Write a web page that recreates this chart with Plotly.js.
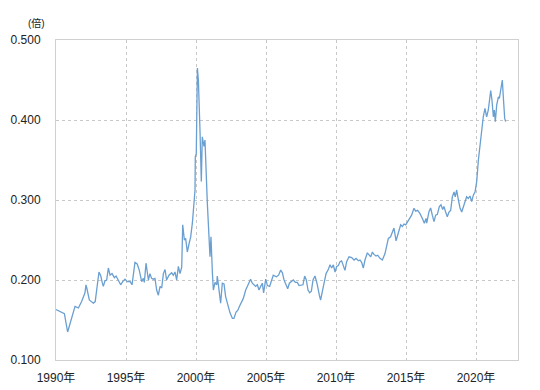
<!DOCTYPE html>
<html>
<head>
<meta charset="utf-8">
<script src="https://cdn.plot.ly/plotly-3.0.1.min.js"></script>
<style>html,body{margin:0;padding:0;background:#fff;}#chart{width:540px;height:390px;}</style>
</head>
<body>
<div id="chart"></div>
<script>
// Decimal year positions of the readings
const years = [
1990.0,1990.4,1990.6,1990.83,1991.12,1991.36,1991.6,1991.83,1992.07,1992.14,1992.2,1992.38,1992.67,1992.8,
1993.07,1993.2,1993.3,1993.38,1993.5,1993.62,1993.74,1993.86,1994.0,1994.17,1994.29,1994.45,1994.62,1994.76,1994.93,
1995.1,1995.3,1995.43,1995.64,1995.8,1995.95,1996.12,1996.24,1996.31,1996.43,1996.6,1996.71,1996.83,1996.95,
1997.07,1997.19,1997.31,1997.43,1997.55,1997.67,1997.79,1997.9,1998.07,1998.26,1998.38,1998.5,1998.62,1998.74,1998.86,1998.98,
1999.05,1999.17,1999.26,1999.38,1999.5,1999.62,1999.74,1999.86,1999.93,1999.95,2000.02,2000.1,2000.17,2000.29,2000.38,2000.45,2000.57,2000.64,2000.76,
2000.81,2001.0,2001.07,2001.17,2001.24,2001.36,2001.48,2001.52,2001.64,2001.76,2001.88,2002.0,2002.12,2002.24,2002.43,2002.6,2002.71,2002.86,2002.98,
2003.1,2003.21,2003.38,2003.55,2003.67,2003.79,2003.9,2004.02,2004.14,2004.26,2004.38,2004.5,2004.62,2004.74,2004.83,2004.98,
2005.1,2005.26,2005.52,2005.74,2005.9,2006.05,2006.17,2006.29,2006.43,2006.55,2006.67,2006.83,2006.95,
2007.1,2007.24,2007.36,2007.52,2007.64,2007.76,2007.88,2008.0,2008.12,2008.24,2008.36,2008.5,2008.64,2008.81,2008.9,
2009.1,2009.29,2009.45,2009.57,2009.69,2009.81,2009.93,2010.05,2010.17,2010.29,2010.4,2010.52,2010.64,2010.76,2010.93,
2011.12,2011.29,2011.43,2011.6,2011.71,2011.83,2011.95,2012.07,2012.24,2012.36,2012.48,2012.6,2012.71,2012.86,2012.98,
2013.14,2013.31,2013.5,2013.74,2013.9,2014.05,2014.14,2014.29,2014.45,2014.62,2014.74,2014.86,2014.98,
2015.1,2015.24,2015.4,2015.57,2015.69,2015.83,2016.0,2016.17,2016.31,2016.43,2016.48,2016.64,2016.76,2016.88,
2017.0,2017.12,2017.24,2017.38,2017.5,2017.62,2017.71,2017.83,2017.95,2018.07,2018.19,2018.31,2018.43,2018.52,2018.62,2018.74,2018.86,2018.98,
2019.1,2019.21,2019.33,2019.45,2019.57,2019.69,2019.81,2019.93,2020.05,2020.17,2020.33,2020.52,2020.64,2020.76,2020.88,
2021.05,2021.14,2021.24,2021.31,2021.38,2021.48,2021.6,2021.67,2021.76,2021.88,2021.95,2022.05,2022.12
];
// Ratio values (倍)
const ratios = [
0.163,0.160,0.158,0.135,0.152,0.167,0.165,0.173,0.184,0.194,0.190,0.175,0.171,0.173,
0.210,0.205,0.197,0.192,0.199,0.200,0.215,0.206,0.208,0.203,0.205,0.200,0.194,0.198,0.201,
0.198,0.198,0.194,0.222,0.220,0.212,0.198,0.202,0.197,0.221,0.200,0.208,0.202,0.201,
0.202,0.1875,0.181,0.192,0.190,0.208,0.213,0.200,0.206,0.209,0.206,0.210,0.200,0.217,0.208,0.216,
0.269,0.250,0.252,0.235,0.245,0.254,0.271,0.296,0.3125,0.354,0.358,0.465,0.450,0.384,0.323,0.379,0.367,0.375,0.317,
0.296,0.229,0.254,0.209,0.1875,0.197,0.194,0.205,0.190,0.171,0.196,0.195,0.179,0.171,0.159,0.152,0.152,0.160,0.162,
0.167,0.171,0.177,0.1875,0.192,0.196,0.201,0.196,0.194,0.192,0.194,0.1875,0.192,0.196,0.184,0.201,
0.193,0.192,0.206,0.204,0.206,0.2125,0.209,0.200,0.194,0.189,0.196,0.198,0.200,
0.197,0.197,0.193,0.194,0.194,0.205,0.200,0.1875,0.184,0.186,0.200,0.205,0.196,0.181,0.175,
0.192,0.208,0.213,0.219,0.215,0.219,0.210,0.217,0.218,0.223,0.224,0.219,0.212,0.223,0.229,
0.228,0.225,0.227,0.224,0.225,0.222,0.215,0.225,0.234,0.231,0.229,0.235,0.232,0.230,0.231,
0.227,0.225,0.233,0.252,0.254,0.2625,0.265,0.249,0.258,0.269,0.267,0.270,0.269,
0.273,0.277,0.281,0.2896,0.286,0.287,0.283,0.277,0.271,0.277,0.271,0.2854,0.290,0.281,
0.273,0.281,0.282,0.2917,0.294,0.288,0.292,0.285,0.279,0.285,0.287,0.304,0.310,0.304,0.3125,0.300,0.290,0.285,
0.292,0.298,0.304,0.302,0.305,0.298,0.306,0.310,0.323,0.350,0.375,0.404,0.4146,0.404,0.4125,
0.4367,0.425,0.404,0.4125,0.398,0.419,0.429,0.427,0.435,0.450,0.429,0.402,0.398
];
const xTickVals = [1990,1995,2000,2005,2010,2015,2020];
const xTickText = ['1990年','1995年','2000年','2005年','2010年','2015年','2020年'];
const yTickVals = [0.1,0.2,0.3,0.4,0.5];
const yTickText = ['0.100','0.200','0.300','0.400','0.500'];
const unitLabel = '(倍)';

const fontFam = '"Liberation Sans", Arial, "Noto Sans CJK JP", sans-serif';

Plotly.newPlot('chart', [{
  x: years, y: ratios, type: 'scatter', mode: 'lines',
  line: {color: '#6a9fd2', width: 1.3},
  hoverinfo: 'skip'
}], {
  width: 540, height: 390,
  margin: {l: 56, r: 22, t: 40, b: 30, pad: 0},
  paper_bgcolor: '#fff', plot_bgcolor: '#fff',
  showlegend: false,
  font: {family: fontFam, size: 12, color: '#222'},
  xaxis: {
    range: [1990, 2023], tickvals: xTickVals, ticktext: xTickText,
    showgrid: true, gridcolor: '#c8c8c8', griddash: 'dot', gridwidth: 1,
    showline: true, linecolor: '#d0d0d0', linewidth: 1, mirror: true,
    ticks: '', ticklabelstandoff: 7, zeroline: false,
    tickfont: {family: fontFam, size: 12, color: '#222'}
  },
  yaxis: {
    range: [0.1, 0.5], tickvals: yTickVals, ticktext: yTickText,
    showgrid: true, gridcolor: '#c8c8c8', griddash: 'dot', gridwidth: 1,
    showline: true, linecolor: '#d0d0d0', linewidth: 1, mirror: true,
    ticks: '', ticklabelstandoff: 12, zeroline: false,
    tickfont: {family: fontFam, size: 12, color: '#222'}
  },
  annotations: [{
    text: unitLabel, xref: 'paper', yref: 'paper', x: -0.043, y: 1.052,
    xanchor: 'center', yanchor: 'middle', showarrow: false,
    font: {family: fontFam, size: 10, color: '#222'}
  }]
}, {displayModeBar: false, staticPlot: true});
</script>
</body>
</html>
